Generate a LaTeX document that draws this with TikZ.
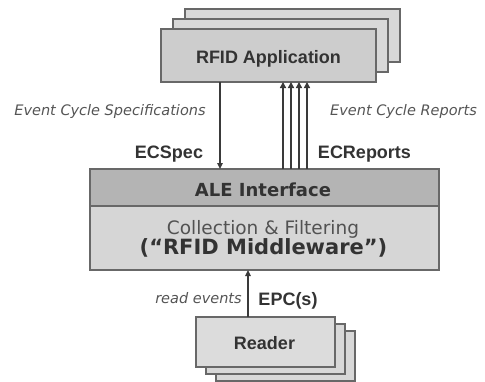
\documentclass[tikz,border=0pt]{standalone}
\usepackage{fontspec}
\setmainfont{Liberation Sans}
\newfontfamily\dvfont{DejaVu Sans}
\usetikzlibrary{arrows.meta}
\definecolor{txt}{HTML}{333333}
\definecolor{edgec}{HTML}{686868}
\definecolor{appfill}{HTML}{CDCDCD}
\definecolor{backfill}{HTML}{D8D8D8}
\definecolor{alefill}{HTML}{B4B4B4}
\definecolor{mwfill}{HTML}{D6D6D6}
\definecolor{rdfill}{HTML}{DCDCDC}
\definecolor{lblc}{HTML}{555555}
\definecolor{arrc}{HTML}{3A3A3A}
\begin{document}
\begin{tikzpicture}[x=1pt,y=-1pt,
  box/.style={draw=edgec, line width=1.5pt, anchor=north west, inner sep=0pt, outer sep=0pt},
  boldlbl/.style={font=\fontsize{18}{18}\selectfont\bfseries, text=txt, inner sep=0pt, anchor=base},
  itallbl/.style={font=\dvfont\fontsize{14.5}{14.5}\selectfont\itshape, text=lblc, inner sep=0pt, anchor=base},
  conn/.style={draw=arrc, line width=2pt, -{Triangle[length=6pt,width=5.5pt]}},
  rep/.style={draw=arrc, line width=2.5pt, -{Triangle[length=6pt,width=6pt]}}
]
\useasboundingbox (0,0) rectangle (485,381);
\fill[white] (0,0) rectangle (485,381);

% RFID Application stack
\node[box, fill=backfill, minimum width=215pt, minimum height=53pt] (appb2) at (185,9) {};
\node[box, fill=backfill, minimum width=215pt, minimum height=53pt] (appb1) at (173,19) {};
\node[box, fill=appfill, minimum width=215pt, minimum height=53pt] (app) at (161,29) {};
\node[boldlbl] (apptxt) at (268.5,63.5) {RFID Application};

% ALE interface and middleware
\node[box, fill=alefill, minimum width=349pt, minimum height=37pt] (ale) at (90,169) {};
\node[box, fill=mwfill, minimum width=349pt, minimum height=64pt] (mw) at (90,206) {};
\node[anchor=base, inner sep=0pt, text=txt, font=\dvfont\bfseries\fontsize{18}{18}\selectfont] (aletxt) at (263,196) {ALE Interface};
\node[anchor=base, inner sep=0pt, text=txt!85, font=\dvfont\fontsize{18.5}{18.5}\selectfont] (mwtxt1) at (263,234) {Collection \& Filtering};
\node[anchor=base, inner sep=0pt, text=txt, font=\dvfont\bfseries\fontsize{21}{21}\selectfont] (mwtxt2) at (263.5,254) {(“RFID Middleware”)};

% Reader stack
\node[box, fill=backfill, minimum width=139pt, minimum height=50pt] (rdb2) at (216,331) {};
\node[box, fill=backfill, minimum width=139pt, minimum height=50pt] (rdb1) at (206,324) {};
\node[box, fill=rdfill, minimum width=139pt, minimum height=50pt] (reader) at (196,317) {};
\node[boldlbl] (rdtxt) at (264.5,349) {Reader};

% connectors
\coordinate (xs) at (220,0);
\coordinate (xr1) at (283,0);
\coordinate (xr2) at (291,0);
\coordinate (xr3) at (299,0);
\coordinate (xr4) at (307,0);
\coordinate (xe) at (248,0);
\draw[conn] (app.south -| xs) -- (ale.north -| xs);
\draw[rep] (ale.north -| xr1) -- (app.south -| xr1);
\draw[rep] (ale.north -| xr2) -- (app.south -| xr2);
\draw[rep] (ale.north -| xr3) -- (app.south -| xr3);
\draw[rep] (ale.north -| xr4) -- (app.south -| xr4);
\draw[conn] (reader.north -| xe) -- (mw.south -| xe);

% labels
\node[itallbl] (ecsl) at (110,115) {Event Cycle Specifications};
\node[itallbl] (ecrl) at (403.5,115) {Event Cycle Reports};
\node[boldlbl] (ecspec) at (169,158) {ECSpec};
\node[boldlbl] (ecrep) at (364.5,158) {ECReports};
\node[itallbl] (rel) at (198.5,303) {read events};
\node[boldlbl] (epc) at (288,305.5) {EPC(s)};
\end{tikzpicture}
\end{document}
